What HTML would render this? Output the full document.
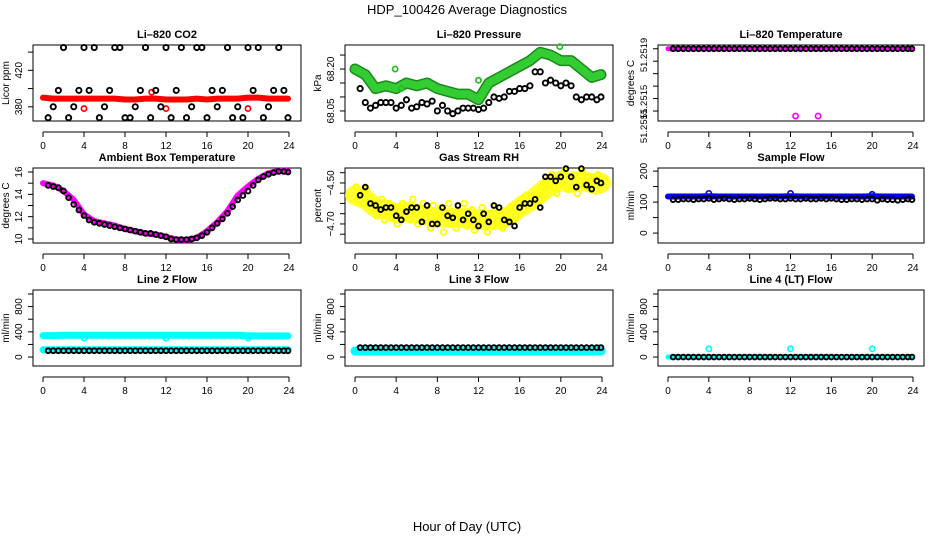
<!DOCTYPE html>
<html><head><meta charset="utf-8"><style>
html,body{margin:0;padding:0;background:#fff;}
svg{display:block;font-family:"Liberation Sans",sans-serif;}
</style></head><body>
<svg id="chart" width="936" height="540" xmlns="http://www.w3.org/2000/svg">
<text x="467" y="14" text-anchor="middle" font-size="13">HDP_100426  Average Diagnostics</text>
<text x="467" y="531" text-anchor="middle" font-size="13">Hour of Day (UTC)</text>
</svg>
<script>
// shared times (hours) for the half-hourly black points
const times48 = [0.5,1,1.5,2,2.5,3,3.5,4,4.5,5,5.5,6,6.5,7,7.5,8,8.5,9,9.5,10,10.5,11,11.5,12,12.5,13,13.5,14,14.5,15,15.5,16,16.5,17,17.5,18,18.5,19,19.5,20,20.5,21,21.5,22,22.5,23,23.5,23.9];
const hours25 = [0,1,2,3,4,5,6,7,8,9,10,11,12,13,14,15,16,17,18,19,20,21,22,23,23.9];
const xTicks = [0,4,8,12,16,20,24];

// Li-820 CO2
const co2Black = [368,380,398,445,368,380,398,445,398,445,368,380,398,445,445,368,368,380,398,445,368,398,380,445,368,398,445,368,380,445,445,368,398,380,398,445,368,380,368,445,398,445,368,380,398,445,398,368];
const co2Red = [390,389,389,389,389,389,389,389,388,388,389,389,388,388,388,389,388,389,389,389,390,390,389,389,389];
// Li-820 Pressure
const presBlack = [68.13,68.08,68.06,68.07,68.08,68.08,68.08,68.06,68.07,68.09,68.06,68.065,68.08,68.075,68.085,68.05,68.07,68.05,68.04,68.05,68.06,68.06,68.06,68.055,68.06,68.08,68.10,68.095,68.10,68.12,68.12,68.13,68.13,68.14,68.19,68.19,68.15,68.16,68.15,68.14,68.15,68.14,68.10,68.09,68.10,68.10,68.09,68.10];
const presGreen = [68.20,68.18,68.13,68.14,68.13,68.15,68.14,68.15,68.13,68.12,68.11,68.11,68.09,68.15,68.17,68.19,68.21,68.23,68.26,68.25,68.23,68.23,68.20,68.17,68.18];
const presGreenOut = [[3.9,68.20],[12,68.16],[19.9,68.28],[4.5,68.13]];
// Li-820 Temperature
const tempBlack = [51.2519,51.2519,51.2519,51.2519,51.2519,51.2519,51.2519,51.2519,51.2519,51.2519,51.2519,51.2519,51.2519,51.2519,51.2519,51.2519,51.2519,51.2519,51.2519,51.2519,51.2519,51.2519,51.2519,51.2519,51.2519,51.2519,51.2519,51.2519,51.2519,51.2519,51.2519,51.2519,51.2519,51.2519,51.2519,51.2519,51.2519,51.2519,51.2519,51.2519,51.2519,51.2519,51.2519,51.2519,51.2519,51.2519,51.2519,51.2519];
const tempMag = [51.2519,51.2519,51.2519,51.2519,51.2519,51.2519,51.2519,51.2519,51.2519,51.2519,51.2519,51.2519,51.2519,51.2519,51.2519,51.2519,51.2519,51.2519,51.2519,51.2519,51.2519,51.2519,51.2519,51.2519,51.2519];
const tempMagOut = [[12.5,51.25136],[14.7,51.25136]];
// Ambient box temperature
const ambMag = [15.0,14.8,14.3,13.5,12.2,11.6,11.4,11.2,10.9,10.7,10.5,10.4,10.2,9.95,9.9,10.1,10.7,11.5,12.5,13.9,14.7,15.4,15.9,16.1,16.1];
const ambBlack = [14.8,14.7,14.6,14.3,13.7,13.1,12.6,12.1,11.7,11.5,11.4,11.3,11.2,11.1,11.0,10.9,10.8,10.7,10.6,10.5,10.5,10.4,10.3,10.2,10.0,9.95,9.95,9.95,10.0,10.1,10.3,10.6,11.0,11.4,11.8,12.3,12.9,13.5,13.9,14.3,14.8,15.3,15.6,15.8,15.95,16.05,16.05,16.0];
// Gas stream RH
const rhYellow = [-4.52,-4.58,-4.55,-4.60,-4.53,-4.57,-4.62,-4.60,-4.66,-4.62,-4.58,-4.68,-4.64,-4.60,-4.67,-4.62,-4.70,-4.64,-4.60,-4.66,-4.62,-4.68,-4.58,-4.65,-4.70,-4.63,-4.60,-4.67,-4.64,-4.72,-4.61,-4.66,-4.68,-4.62,-4.74,-4.65,-4.60,-4.70,-4.66,-4.72,-4.64,-4.68,-4.60,-4.71,-4.67,-4.63,-4.73,-4.66,-4.70,-4.62,-4.68,-4.74,-4.65,-4.71,-4.62,-4.69,-4.66,-4.72,-4.64,-4.68,-4.62,-4.69,-4.66,-4.60,-4.58,-4.63,-4.56,-4.61,-4.57,-4.60,-4.55,-4.58,-4.52,-4.56,-4.49,-4.53,-4.46,-4.52,-4.55,-4.48,-4.50,-4.44,-4.53,-4.47,-4.52,-4.46,-4.55,-4.49,-4.44,-4.51,-4.47,-4.53,-4.49,-4.54,-4.46,-4.51];
const rhYellowMean = [-4.56,-4.58,-4.62,-4.63,-4.65,-4.64,-4.65,-4.66,-4.67,-4.67,-4.67,-4.67,-4.68,-4.68,-4.68,-4.66,-4.62,-4.59,-4.55,-4.51,-4.49,-4.50,-4.49,-4.50,-4.50];
const rhBlack = [-4.56,-4.52,-4.60,-4.61,-4.63,-4.62,-4.62,-4.66,-4.68,-4.64,-4.62,-4.62,-4.69,-4.61,-4.70,-4.70,-4.62,-4.66,-4.67,-4.61,-4.68,-4.65,-4.68,-4.71,-4.65,-4.69,-4.61,-4.62,-4.68,-4.69,-4.71,-4.62,-4.60,-4.60,-4.58,-4.62,-4.47,-4.47,-4.49,-4.47,-4.43,-4.47,-4.52,-4.43,-4.51,-4.53,-4.49,-4.50];
// Sample flow
const sfBlack = [108,108,110,110,108,110,110,112,108,110,112,110,108,110,110,112,110,108,110,112,112,110,110,112,110,110,112,110,110,112,110,112,110,108,108,110,110,108,110,110,106,110,108,108,106,108,110,108];
const sfBlue = [118,118,118,118,119,118,118,118,118,118,118,118,119,118,118,118,118,118,118,118,119,118,118,118,118];
const sfBlueOut = [[4,128],[12,128],[20,125]];
// Line 2/3/4 flows
const l2Black = [100,100,100,100,100,100,100,100,100,100,100,100,100,100,100,100,100,100,100,100,100,100,100,100,100,100,100,100,100,100,100,100,100,100,100,100,100,100,100,100,100,100,100,100,100,100,100,100];
const l2CyanHi = [340,340,345,345,345,345,345,345,345,345,345,345,345,345,345,345,345,345,345,345,335,335,335,335,335];
const l2CyanLo = [115,115,115,115,115,115,115,115,115,115,115,115,115,115,115,115,115,115,115,115,115,115,115,115,115];
const l3Black = [150,150,150,150,150,150,150,150,150,150,150,150,150,150,150,150,150,150,150,150,150,150,150,150,150,150,150,150,150,150,150,150,150,150,150,150,150,150,150,150,150,150,150,150,150,150,150,150];
const l3Cyan = [95,95,95,95,95,95,95,95,95,95,95,95,95,95,95,95,95,95,95,95,95,95,95,95,95];
const l4Black = [0,0,0,0,0,0,0,0,0,0,0,0,0,0,0,0,0,0,0,0,0,0,0,0,0,0,0,0,0,0,0,0,0,0,0,0,0,0,0,0,0,0,0,0,0,0,0,0];
const l4Cyan = [0,0,0,0,0,0,0,0,0,0,0,0,0,0,0,0,0,0,0,0,0,0,0,0,0];
const l4CyanOut = [[4,130],[12,130],[20,130]];

const NS = "http://www.w3.org/2000/svg";
const svg = document.getElementById('chart');
function mk(tag, attrs, parent){const e=document.createElementNS(NS,tag);for(const k in attrs)e.setAttribute(k,attrs[k]);(parent||svg).appendChild(e);return e;}

const cols = [{bx0:33,bx1:301,x0:43,x24:289},{bx0:345,bx1:613,x0:355,x24:602},{bx0:658,bx1:924,x0:668,x24:913}];
const rows = [{top:45,bot:121},{top:168,bot:243},{top:290,bot:366}];

function panel(name, title, r, c, dom, yTicks, yLabels, ylab){
  const C=cols[c], R=rows[r];
  const g=mk('g',{});
  
  
  const xs=h=>C.x0+(h/24)*(C.x24-C.x0);
  const ys=v=>R.bot-(v-dom[0])/(dom[1]-dom[0])*(R.bot-R.top);
  const t=mk('text',{x:(C.bx0+C.bx1)/2,y:R.top-7,'text-anchor':'middle','font-size':11,'font-weight':'bold'},g);
  t.textContent=title;
  
  
  const box=mk('rect',{x:C.bx0,y:R.top,width:C.bx1-C.bx0,height:R.bot-R.top,fill:'none',stroke:'#000','stroke-width':1},g);
  
  
  const ax=R.bot+11;
  const xa=mk('g',{},g);
  
  
  mk('line',{x1:xs(0),x2:xs(24),y1:ax,y2:ax,stroke:'#000'},xa);
  xTicks.forEach(h=>{mk('line',{x1:xs(h),x2:xs(h),y1:ax,y2:ax+5,stroke:'#000'},xa);
    const tl=mk('text',{x:xs(h),y:ax+17,'text-anchor':'middle','font-size':10},xa);tl.textContent=h;
    
    });
  const ya=mk('g',{},g);
  
  
  mk('line',{x1:C.bx0,x2:C.bx0,y1:ys(yTicks[0]),y2:ys(yTicks[yTicks.length-1]),stroke:'#000'},ya);
  yTicks.forEach(v=>mk('line',{x1:C.bx0-5,x2:C.bx0,y1:ys(v),y2:ys(v),stroke:'#000'},ya));
  yLabels.forEach(l=>{const yy=l.y!==undefined?l.y:ys(l.v);const lx=C.bx0-11;
    const tl=mk('text',{x:lx,y:yy,'text-anchor':'middle','font-size':l.fs||10,transform:`rotate(-90 ${lx} ${yy})`},ya);tl.textContent=l.t;
    
    });
  const yl=mk('text',{x:C.bx0-24,y:(R.top+R.bot)/2,'text-anchor':'middle','font-size':10,transform:`rotate(-90 ${C.bx0-24} ${(R.top+R.bot)/2})`},g);
  yl.textContent=ylab;
  
  
  const clipId='clip'+r+c;
  const cp=mk('clipPath',{id:clipId},g);mk('rect',{x:C.bx0,y:R.top-4,width:C.bx1-C.bx0,height:R.bot-R.top+8},cp);
  const marks=mk('g',{'clip-path':`url(#${clipId})`},g);
  return {
    band(vals,color,w,opacity){const p=mk('polyline',{points:vals.map((v,i)=>xs(hours25[i])+','+ys(v)).join(' '),fill:'none',stroke:color,'stroke-width':w,'stroke-linecap':'round','stroke-linejoin':'round',opacity:opacity||1},marks);
      
      },
    pts(ts,vals,color,rr){vals.forEach((v,i)=>{const cc=mk('circle',{cx:xs(ts[i]),cy:ys(v),r:rr||2.6,fill:'none',stroke:color,'stroke-width':1.9},marks);
      
      });},
    pairs(arr,color){arr.forEach(p=>{const cc=mk('circle',{cx:xs(p[0]),cy:ys(p[1]),r:2.6,fill:'none',stroke:color,'stroke-width':1.7},marks);
      
      });}
  };
}

let p;
p=panel('co2-panel','Li\u2013820 CO2',0,0,[364.4,447.8],[380,400,420,440],[{v:380,t:'380'},{v:420,t:'420'}],'Licor ppm');
p.band(co2Red,'#ff0000',6);p.pairs([[10.6,396],[4,378],[12,378],[20,378]],'#ff0000');p.pts(times48,co2Black,'#000');

p=panel('pressure-panel','Li\u2013820 Pressure',0,1,[68.014,68.286],[68.05,68.10,68.15,68.20,68.25],[{v:68.05,t:'68.05'},{v:68.20,t:'68.20'}],'kPa');
p.band(presGreen,'#1a8a1a',11);p.band(presGreen,'#33cc33',8);p.pairs(presGreenOut,'#22bb22');p.pts(times48,presBlack,'#000');

p=panel('li820-temperature-panel','Li\u2013820 Temperature',0,2,[51.25132,51.25193],[51.2514,51.2515,51.2516,51.2517,51.2518,51.2519],[{y:55,t:'51.2519',fs:9.5},{y:102,t:'51.2515',fs:9.5},{y:126,t:'51.2515',fs:9.5}],'degrees C');
p.band(tempMag,'#ff00ff',5);p.pairs(tempMagOut,'#ff00ff');p.pts(times48,tempBlack,'#000',2.4);

p=panel('ambient-temperature-panel','Ambient Box Temperature',1,0,[9.64,16.36],[10,11,12,13,14,15,16],[{v:10,t:'10'},{v:12,t:'12'},{v:14,t:'14'},{v:16,t:'16'}],'degrees C');
p.band(ambMag,'#ff00ff',6);p.pts(times48,ambBlack,'#000',2.4);

p=panel('gas-rh-panel','Gas Stream RH',1,1,[-4.793,-4.427],[-4.75,-4.70,-4.65,-4.60,-4.55,-4.50,-4.45],[{v:-4.70,t:'\u22124.70'},{v:-4.50,t:'\u22124.50'}],'percent');
p.band(rhYellowMean,'#ffff00',20,0.8);
p.pts(rhYellow.map((v,i)=>i*0.25+0.1),rhYellow,'#ffff00',2.8);p.pts(times48,rhBlack,'#000',2.4);

p=panel('sample-flow-panel','Sample Flow',1,2,[-32,210],[0,50,100,150,200],[{v:0,t:'0'},{v:100,t:'100'},{v:200,t:'200'}],'ml/min');
p.band(sfBlue,'#0000ff',6);p.pairs(sfBlueOut,'#0000ff');p.pts(times48,sfBlack,'#000',2.4);

const flowTicks=[0,200,400,600,800,1000], flowLabels=[{v:0,t:'0'},{v:400,t:'400'},{v:800,t:'800'}];
p=panel('line2-flow-panel','Line 2 Flow',2,0,[-142,1063],flowTicks,flowLabels,'ml/min');
p.band(l2CyanHi,'#00ffff',7);p.band(l2CyanLo,'#00ffff',7);p.pairs([[4,300],[12,300],[20,300]],'#00ffff');p.pts(times48,l2Black,'#000',2.4);

p=panel('line3-flow-panel','Line 3 Flow',2,1,[-142,1063],flowTicks,flowLabels,'ml/min');
p.band(l3Cyan,'#00ffff',9);p.pts(times48,l3Black,'#000',2.4);

p=panel('line4-flow-panel','Line 4 (LT) Flow',2,2,[-142,1063],flowTicks,flowLabels,'ml/min');
p.band(l4Cyan,'#00ffff',5);p.pairs(l4CyanOut,'#00ffff');p.pts(times48,l4Black,'#000',2.4);
</script>
</body></html>
